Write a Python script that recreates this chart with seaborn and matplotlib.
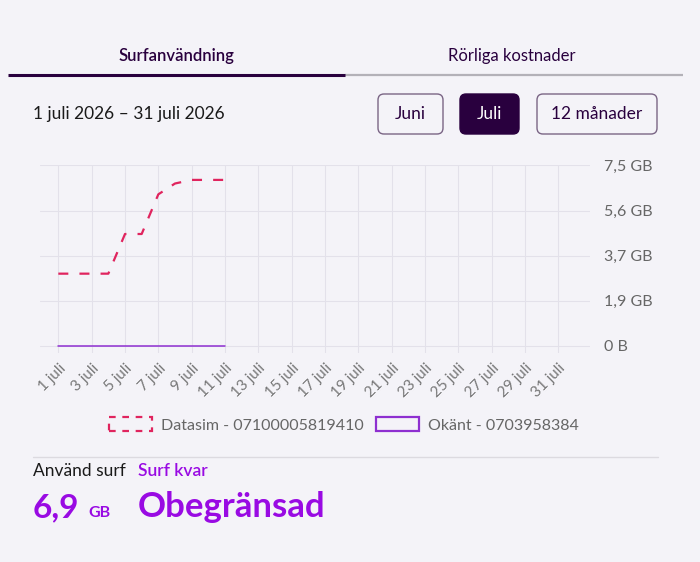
import pandas as pd
import seaborn as sns
import matplotlib.pyplot as plt
from matplotlib.patches import FancyBboxPatch, Patch

# data
days = [1, 2, 3, 4, 5, 6, 7, 8, 9, 10, 11]
datasim_gb = [3.0, 3.0, 3.0, 3.0, 4.65, 4.65, 6.3, 6.75, 6.9, 6.9, 6.9]
okant_gb = [0, 0, 0, 0, 0, 0, 0, 0, 0, 0, 0]
tick_days = list(range(1, 32, 2))
tick_labels = [f'{d} juli' for d in tick_days]
y_ticks = [0, 1.875, 3.75, 5.625, 7.5]
y_labels = ['0 B', '1,9 GB', '3,7 GB', '5,6 GB', '7,5 GB']
legend_labels = ['Datasim - 07100005819410', 'Okänt - 0703958384']

bg = '#f4f3f8'
dark = '#29003e'
pink = '#e0245e'
violet = '#8e2fd0'
purple = '#990ae3'

sns.set_style('white')
plt.rcParams['font.family'] = ['Lato', 'DejaVu Sans']

df = pd.DataFrame({'dag': days * 2,
                   'GB': datasim_gb + okant_gb,
                   'serie': [legend_labels[0]] * len(days) + [legend_labels[1]] * len(days)})

fig = plt.figure(figsize=(7, 5.62), dpi=100, facecolor=bg)
ax = fig.add_axes([40 / 700, 1 - 353 / 562, 550 / 700, 188 / 562])
ax.set_facecolor(bg)

sns.lineplot(data=df[df['serie'] == legend_labels[0]], x='dag', y='GB', ax=ax,
             color=pink, linewidth=1.6, linestyle=(0, (4.5, 5)), zorder=3)
sns.lineplot(data=df[df['serie'] == legend_labels[1]], x='dag', y='GB', ax=ax,
             color=violet, linewidth=1.1, zorder=3)

ax.set_xlim(-0.1, 32.9)
ax.set_ylim(-0.3, 7.52)
ax.set_xticks(tick_days)
ax.set_xticklabels(tick_labels, rotation=45, ha='right', rotation_mode='anchor',
                   fontsize=11, color='#777777')
ax.yaxis.tick_right()
ax.set_yticks(y_ticks)
ax.set_yticklabels(y_labels, fontsize=11.5, color='#666666')
ax.tick_params(axis='both', length=0)
ax.tick_params(axis='y', pad=10)
ax.tick_params(axis='x', pad=6)
ax.grid(True, color='#e3e1ea', linewidth=0.8)
ax.set_xlabel('')
ax.set_ylabel('')
for s in ax.spines.values():
    s.set_visible(False)

handles = [Patch(facecolor='none', edgecolor=pink, linestyle=(0, (3, 3)), linewidth=1.6),
           Patch(facecolor='none', edgecolor=violet, linewidth=1.6)]
fig.legend(handles=handles, labels=legend_labels, loc='center',
           bbox_to_anchor=(344 / 700, 1 - 425 / 562), ncol=2, frameon=False,
           fontsize=11.5, labelcolor='#666666', handlelength=2.7, handleheight=0.95,
           handletextpad=0.55, columnspacing=0.75)

# page elements around the chart, in pixel coordinates
ui = fig.add_axes([0, 0, 1, 1], zorder=-1)
ui.set_xlim(0, 700)
ui.set_ylim(562, 0)
ui.axis('off')

ui.text(176, 56, 'Surfanvändning', ha='center', va='center', fontsize=12,
        color=dark, fontweight='semibold')
ui.text(512, 56, 'Rörliga kostnader', ha='center', va='center', fontsize=12, color=dark)
ui.plot([345, 683], [75, 75], color='#b3b1b8', linewidth=1.6, solid_capstyle='butt')
ui.plot([8, 345], [75, 75], color=dark, linewidth=2.2, solid_capstyle='butt')

ui.text(33, 114, '1 juli 2026 – 31 juli 2026', ha='left', va='center', fontsize=12.5,
        color='#1a1a1a')

buttons = [('Juni', 378, 443, False), ('Juli', 460, 519, True), ('12 månader', 537, 657, False)]
for label, x0, x1, active in buttons:
    box = FancyBboxPatch((x0, 94), x1 - x0, 40, boxstyle='round,pad=0,rounding_size=6',
                         facecolor=dark if active else bg,
                         edgecolor=dark if active else '#7a6585', linewidth=1.0)
    ui.add_patch(box)
    ui.text((x0 + x1) / 2, 114, label, ha='center', va='center', fontsize=12.5,
            color='white' if active else dark)

ui.plot([33, 658], [457, 457], color='#dcdae0', linewidth=1)
ui.text(33, 471, 'Använd surf', ha='left', va='center', fontsize=12.5, color='#1a1a1a')
ui.text(138, 471, 'Surf kvar', ha='left', va='center', fontsize=12.5, color=purple,
        fontweight='semibold')
ui.text(33, 517, '6,9', ha='left', va='baseline', fontsize=24, color=purple, fontweight='bold')
ui.text(88, 517, 'GB', ha='left', va='baseline', fontsize=11.5, color=purple, fontweight='bold')
ui.text(138, 517, 'Obegränsad', ha='left', va='baseline', fontsize=25, color=purple,
        fontweight='bold')

fig.savefig('out.png', dpi=100, facecolor=bg)
